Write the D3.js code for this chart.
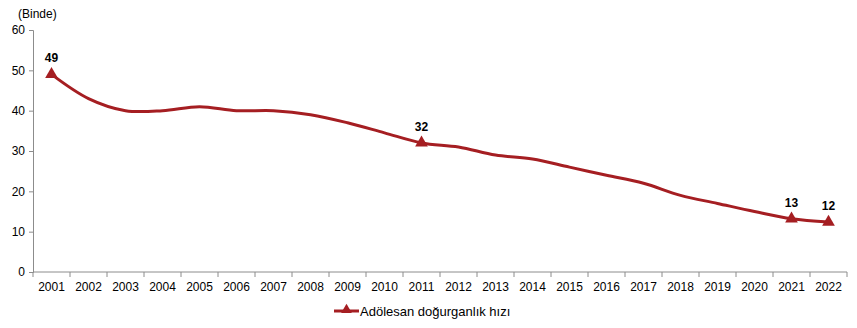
<!DOCTYPE html>
<html><head><meta charset="utf-8">
<script src="https://cdn.jsdelivr.net/npm/d3@7"></script>
<style>body{margin:0;background:#fff}text{font-family:"Liberation Sans",Arial,sans-serif}</style>
</head><body><svg id="c" width="857" height="328"></svg>
<script>
const years = ["2001","2002","2003","2004","2005","2006","2007","2008","2009","2010","2011","2012","2013","2014","2015","2016","2017","2018","2019","2020","2021","2022"];
const rates = [49,43,40,40,41,40,40,39,37,34.5,32,31,29,28,26,24,22,19,17,15,13.2,12.4];
const labeled = ["2001","2011","2021","2022"];
const labelText = {"2001":"49","2011":"32","2021":"13","2022":"12"};
const yTicks = [0,10,20,30,40,50,60];
const seriesName = "Adölesan doğurganlık hızı";

const svg = d3.select("#c");
const color = "#a51e22";
const axisColor = "#8c8c8c";
const x = d3.scaleBand().domain(years).range([33, 847]);
const y = d3.scaleLinear().domain([0,60]).range([272, 30]);

// y axis
const ya = svg.append("g").attr("transform","translate(33,0)")
  .call(d3.axisLeft(y).tickValues(yTicks).tickSize(4).tickPadding(4));
ya.select(".domain").attr("stroke",axisColor);
ya.selectAll(".tick line").attr("stroke",axisColor);
ya.selectAll(".tick text").attr("font-size","12px").attr("fill","#000").attr("font-family","Liberation Sans, Arial, sans-serif");

// x axis
const xa = svg.append("g").attr("transform","translate(0,272)")
  .call(d3.axisBottom(x).tickSize(0).tickPadding(10));
xa.select(".domain").attr("stroke",axisColor).attr("d","M33,0H847");
xa.selectAll(".tick line").remove();
xa.selectAll(".tick text").attr("font-size","12px").attr("fill","#000").attr("font-family","Liberation Sans, Arial, sans-serif");
// category boundary ticks
const bounds = years.map(d => x(d)).concat([x.range()[1]]);
svg.append("g").selectAll("line").data(bounds).join("line")
  .attr("x1",d=>d).attr("x2",d=>d).attr("y1",272).attr("y2",277)
  .attr("stroke",axisColor);

// unit label
svg.append("text").attr("x",18).attr("y",18).attr("font-size","12px").text("(Binde)");

// line
const pts = years.map((d,i)=>({year:d,v:rates[i]}));
const line = d3.line().x(d=>x(d.year)+x.bandwidth()/2).y(d=>y(d.v)).curve(d3.curveCatmullRom.alpha(0.5));
svg.append("path").datum(pts).attr("d",line).attr("fill","none").attr("stroke",color).attr("stroke-width",3);

// markers
const tri = d3.symbol().type(d3.symbolTriangle).size(70);
const lp = pts.filter(d=>labeled.includes(d.year));
svg.append("g").selectAll("path").data(lp).join("path")
  .attr("d",tri).attr("fill",color)
  .attr("transform",d=>`translate(${x(d.year)+x.bandwidth()/2},${y(d.v)})`);
svg.append("g").selectAll("text").data(lp).join("text")
  .attr("x",d=>x(d.year)+x.bandwidth()/2)
  .attr("y",d=>y(d.v)-12)
  .attr("text-anchor","middle").attr("font-size","12px").attr("font-weight","bold")
  .text(d=>labelText[d.year]);

// legend
const lg = svg.append("g").attr("transform","translate(334,311)");
lg.append("line").attr("x1",0).attr("x2",25).attr("y1",0).attr("y2",0).attr("stroke",color).attr("stroke-width",3);
lg.append("path").attr("d",d3.symbol().type(d3.symbolTriangle).size(50)).attr("fill",color).attr("transform","translate(12.5,-1)");
lg.append("text").attr("x",26).attr("y",5).attr("font-size","13px").text(seriesName);
</script></body></html>
